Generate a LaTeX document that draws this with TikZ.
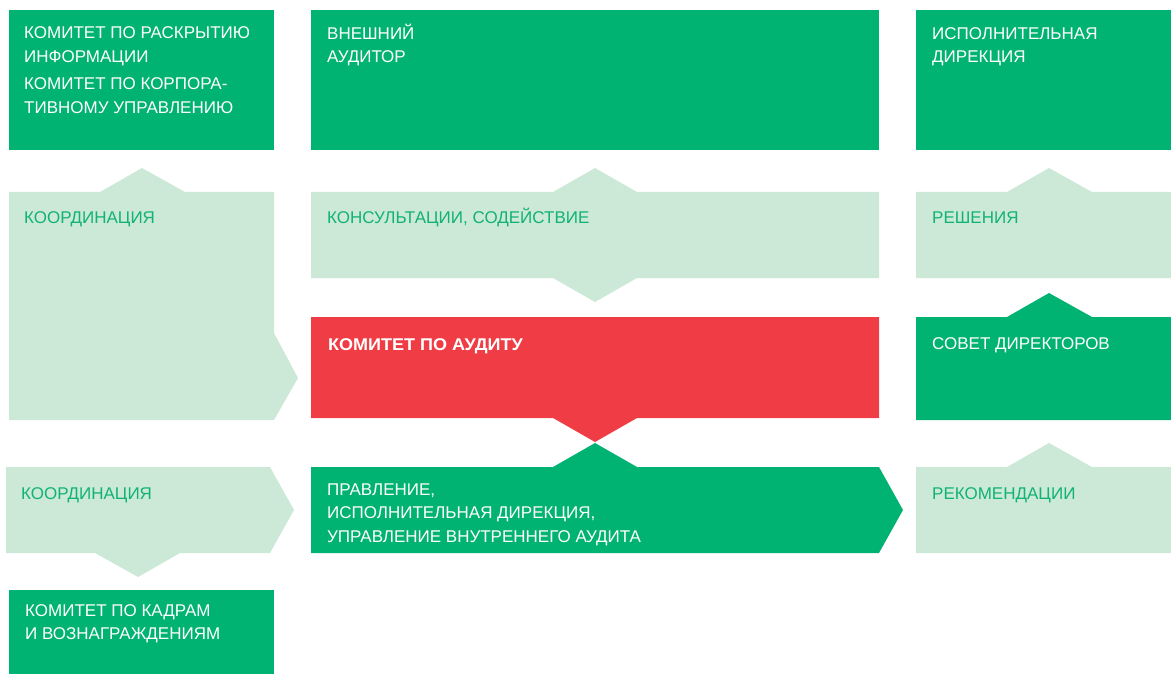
\documentclass[tikz,border=0pt]{standalone}
\usepackage{fontspec}
\setmainfont{Liberation Sans}
\definecolor{grn}{HTML}{00B373}
\definecolor{pale}{HTML}{CCE8D7}
\definecolor{rd}{HTML}{F03C44}
\definecolor{grntext}{HTML}{10B373}
\tikzset{
  dark/.style={fill=grn},
  light/.style={fill=pale},
  lbl/.style={anchor=base west, inner sep=0pt, align=left, font=\fontsize{17}{23.5}\selectfont},
  onDark/.style={lbl, text=white},
  onLight/.style={lbl, text=grntext}
}
\begin{document}
\begin{tikzpicture}[x=1pt, y=-1pt]
\useasboundingbox (0,0) rectangle (1171,674);
% top row
\fill[dark] (9,10) rectangle (274,150);
\fill[dark] (311,10) rectangle (879,150);
\fill[dark] (916,10) rectangle (1171,150);
% second row
\fill[light] (9,192) -- (100,192) -- (142,168) -- (185,192) -- (274,192) -- (274,333) -- (298,378) -- (274,420) -- (9,420) -- cycle;
\fill[light] (311,192) -- (553,192) -- (595,168) -- (637,192) -- (879,192) -- (879,278) -- (637,278) -- (595,302) -- (553,278) -- (311,278) -- cycle;
\fill[light] (916,192) -- (1007,192) -- (1049,168) -- (1092,192) -- (1171,192) -- (1171,278) -- (916,278) -- cycle;
% audit committee and board
\fill[rd] (311,317) -- (879,317) -- (879,418) -- (637,418) -- (595,442) -- (553,418) -- (311,418) -- cycle;
\fill[dark] (916,317) -- (1007,317) -- (1049,293) -- (1092,317) -- (1171,317) -- (1171,420) -- (916,420) -- cycle;
% lower row
\fill[light] (6,467) -- (270,467) -- (294,510) -- (270,553) -- (180,553) -- (138,577) -- (95,553) -- (6,553) -- cycle;
\fill[dark] (311,467) -- (553,467) -- (595,443) -- (637,467) -- (879,467) -- (903,510) -- (879,553) -- (311,553) -- cycle;
\fill[light] (916,467) -- (1007,467) -- (1049,443) -- (1092,467) -- (1171,467) -- (1171,553) -- (916,553) -- cycle;
\fill[dark] (9,590) rectangle (274,674);
% labels (base = last line)
\node[onDark] (disclosure) at (24,62.5) {КОМИТЕТ ПО РАСКРЫТИЮ\\ИНФОРМАЦИИ};
\node[onDark] (governance) at (24,113.5) {КОМИТЕТ ПО КОРПОРА-\\ТИВНОМУ УПРАВЛЕНИЮ};
\node[onDark] (auditor) at (327,63) {ВНЕШНИЙ\\АУДИТОР};
\node[onDark] (execdir) at (932,63) {ИСПОЛНИТЕЛЬНАЯ\\ДИРЕКЦИЯ};
\node[onLight] (coordA) at (24,224) {КООРДИНАЦИЯ};
\node[onLight] (consult) at (327,224) {КОНСУЛЬТАЦИИ, СОДЕЙСТВИЕ};
\node[onLight] (decisions) at (932,224) {РЕШЕНИЯ};
\node[onDark, font=\fontsize{17}{23.5}\selectfont\bfseries\addfontfeature{FakeStretch=1.06}] (auditcom) at (328,350) {КОМИТЕТ ПО АУДИТУ};
\node[onDark] (board) at (932,349) {СОВЕТ ДИРЕКТОРОВ};
\node[onLight] (coordB) at (21,499) {КООРДИНАЦИЯ};
\node[onDark] (mgmt) at (327,542) {ПРАВЛЕНИЕ,\\ИСПОЛНИТЕЛЬНАЯ ДИРЕКЦИЯ,\\УПРАВЛЕНИЕ ВНУТРЕННЕГО АУДИТА};
\node[onLight] (recomm) at (932,499) {РЕКОМЕНДАЦИИ};
\node[onDark] (hrcom) at (25,639.5) {КОМИТЕТ ПО КАДРАМ\\И ВОЗНАГРАЖДЕНИЯМ};
\end{tikzpicture}
\end{document}
